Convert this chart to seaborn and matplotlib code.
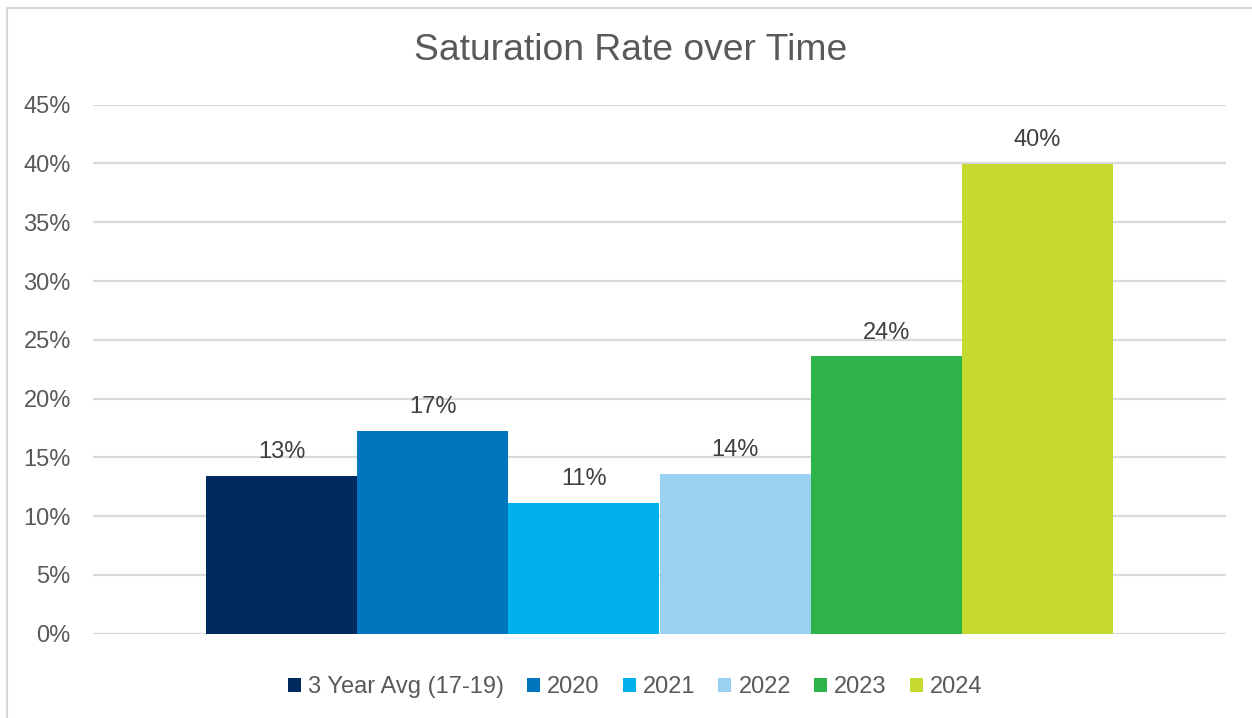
import matplotlib
matplotlib.use("Agg")
import matplotlib.pyplot as plt
import seaborn as sns
import pandas as pd
from matplotlib.patches import Rectangle
from matplotlib.ticker import PercentFormatter

series = ["3 Year Avg (17-19)", "2020", "2021", "2022", "2023", "2024"]
values = [0.1344, 0.1728, 0.1114, 0.1360, 0.2359, 0.3996]
colors = ["#00295E", "#0076BE", "#00B1EE", "#9AD0F0", "#2DB34A", "#C6D92E"]
yticks = [0, 0.05, 0.10, 0.15, 0.20, 0.25, 0.30, 0.35, 0.40, 0.45]
title = "Saturation Rate over Time"

df = pd.DataFrame({"cat": ["all"] * len(series), "series": series, "value": values})

sns.set_theme(style="white")
plt.rcParams["font.family"] = ["Liberation Sans", "DejaVu Sans"]
text_color = "#595959"
grid_color = "#D9D9D9"

fig = plt.figure(figsize=(12.52, 7.18), dpi=100)
ax = fig.add_axes([93 / 1252, 1 - 633.7 / 718, (1226 - 93) / 1252, (633.7 - 104.7) / 718])

sns.barplot(data=df, x="cat", y="value", hue="series", hue_order=series,
            palette=colors, width=0.8, gap=0, ax=ax, legend=False,
            saturation=1, linewidth=0, edgecolor="none")

ax.set_xlim(-0.5, 0.5)
ax.set_ylim(0, 0.45)
ax.set_yticks(yticks)
ax.yaxis.set_major_formatter(PercentFormatter(1.0, decimals=0))
ax.set_xticks([])
ax.set_xlabel("")
ax.set_ylabel("")
for s in ax.spines.values():
    s.set_visible(False)
ax.grid(axis="y", color=grid_color, linewidth=1.6)
ax.set_axisbelow(True)
ax.tick_params(axis="y", length=0, pad=16, labelsize=17, labelcolor=text_color)

for cont in ax.containers:
    ax.bar_label(cont, labels=[f"{v:.0%}" for v in cont.datavalues],
                 padding=9, fontsize=17, color="#404040")

handles = [Rectangle((0, 0), 1, 1, facecolor=c, edgecolor="none") for c in colors]
fig.legend(handles, series, loc="center", bbox_to_anchor=(635 / 1252, 1 - 687 / 718),
           ncol=6, frameon=False, fontsize=17, labelcolor=text_color,
           handlelength=0.55, handleheight=0.55, handletextpad=0.3,
           columnspacing=0.98, borderaxespad=0)

fig.text(631 / 1252, 1 - 50 / 718, title, ha="center", va="center",
         fontsize=26.8, color=text_color)

border = Rectangle((7 / 1252, -0.1), 1.2, 1 - 8 / 718 + 0.1, transform=fig.transFigure,
                   facecolor="none", edgecolor=grid_color, linewidth=1.5)
fig.patches.append(border)

fig.savefig("out.png", dpi=100)
